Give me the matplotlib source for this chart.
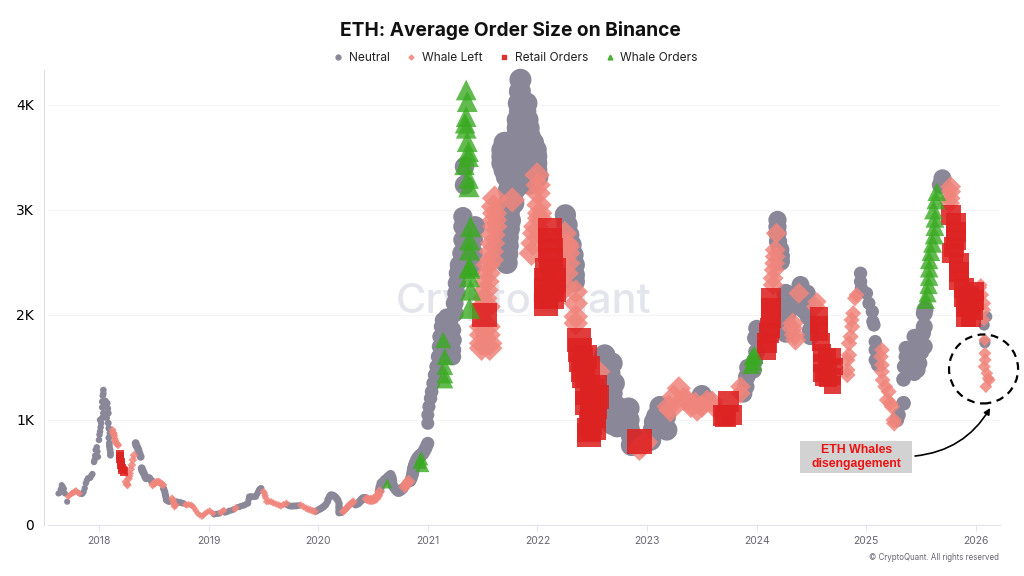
#!/usr/bin/env python3
"""ETH average order size on Binance, coloured by order regime."""

import matplotlib
matplotlib.use("Agg")
import matplotlib.pyplot as plt
import numpy as np
from matplotlib.lines import Line2D
from matplotlib.patches import Ellipse, Rectangle

# (decimal year, average order size)
neutral = [
    (2017.63, 300), (2017.64, 305), (2017.65, 340), (2017.66, 380), (2017.67, 365), (2017.68, 345), (2017.69, 300), (2017.71, 222),
    (2017.84, 295), (2017.85, 300), (2017.86, 317), (2017.87, 350), (2017.88, 397), (2017.89, 425), (2017.90, 445), (2017.92, 450), (2017.93, 470), (2017.94, 485),
    (2017.955, 600), (2017.96, 620), (2017.965, 660), (2017.97, 715), (2017.98, 740), (2017.985, 700), (2017.99, 650), (2018.0, 810),
    (2018.005, 860), (2018.01, 890), (2018.015, 930), (2018.02, 970), (2018.03, 1020), (2018.04, 1065), (2018.01, 1000),
    (2018.03, 1120), (2018.03, 1175), (2018.035, 1230), (2018.04, 1285), (2018.04, 1250),
    (2018.05, 1170), (2018.06, 1180), (2018.075, 1160), (2018.08, 1110), (2018.085, 1065), (2018.07, 1020), (2018.085, 970), (2018.09, 920), (2018.1, 875),
    (2018.09, 830), (2018.095, 780), (2018.095, 750), (2018.1, 720), (2018.105, 690), (2018.105, 665),
    (2018.335, 780), (2018.34, 760), (2018.35, 740), (2018.36, 715), (2018.37, 680), (2018.38, 650), (2018.39, 540), (2018.395, 520), (2018.40, 510), (2018.41, 490),
    (2018.42, 465), (2018.43, 445), (2018.445, 450), (2018.46, 445), (2018.48, 420),
    (2018.59, 345), (2018.6, 317), (2018.605, 290), (2018.61, 270), (2018.615, 238), (2018.63, 230), (2018.64, 225),
    (2018.71, 222), (2018.725, 215), (2018.74, 215), (2018.755, 210), (2018.77, 206),
    (2019.05, 100), (2019.07, 105), (2019.085, 108), (2019.10, 110), (2019.15, 118), (2019.17, 125), (2019.19, 136), (2019.21, 140), (2019.23, 150),
    (2019.27, 170), (2019.285, 175), (2019.30, 181), (2019.315, 185), (2019.33, 190), (2019.345, 200), (2019.36, 206), (2019.365, 240), (2019.37, 270),
    (2019.385, 272), (2019.40, 270), (2019.415, 268), (2019.43, 270), (2019.44, 290), (2019.45, 310), (2019.46, 333), (2019.47, 345), (2019.48, 350),
    (2019.72, 190), (2019.74, 181), (2019.755, 180), (2019.77, 180), (2019.785, 182), (2019.80, 181), (2019.82, 185),
    (2019.98, 130), (2019.995, 140), (2020.01, 149), (2020.02, 155), (2020.03, 160), (2020.04, 168), (2020.05, 175), (2020.06, 185), (2020.07, 195), (2020.085, 222),
    (2020.09, 245), (2020.10, 260), (2020.105, 275), (2020.115, 286), (2020.13, 285), (2020.14, 280), (2020.15, 272), (2020.16, 264), (2020.17, 250), (2020.18, 235), (2020.19, 206),
    (2020.19, 180), (2020.19, 160), (2020.19, 135), (2020.19, 117), (2020.21, 120),
    (2020.34, 195), (2020.35, 200), (2020.365, 206), (2020.38, 222), (2020.39, 235), (2020.40, 245), (2020.41, 254), (2020.43, 255),
    (2020.56, 330), (2020.565, 360), (2020.575, 397), (2020.59, 410), (2020.605, 428), (2020.62, 440), (2020.64, 460), (2020.66, 476), (2020.67, 450), (2020.675, 420),
    (2020.68, 381), (2020.69, 360), (2020.705, 340), (2020.72, 325), (2020.73, 317), (2020.745, 322), (2020.76, 335), (2020.775, 349),
    (2020.84, 420), (2020.85, 444), (2020.86, 480), (2020.865, 510), (2020.87, 540), (2020.88, 571), (2020.895, 605), (2020.91, 635), (2020.93, 660), (2020.955, 683), (2020.97, 710), (2020.98, 730), (2020.99, 755), (2021.0, 778),
    (2021.00, 968), (2021.0, 1048), (2021.01, 1127), (2021.025, 1206), (2021.035, 1270), (2021.05, 1350), (2021.065, 1429),
    (2021.08, 1508), (2021.095, 1603), (2021.105, 1699), (2021.11, 1794), (2021.125, 1889), (2021.135, 1952),
    (2021.17, 1984), (2021.2, 1937), (2021.225, 1857), (2021.23, 1762), (2021.225, 1667), (2021.225, 1603), (2021.155, 1730), (2021.155, 1603), (2021.155, 1841),
    (2021.19, 1750), (2021.19, 1650),
    (2021.245, 2016), (2021.245, 2111), (2021.26, 2207), (2021.265, 2302), (2021.275, 2397), (2021.285, 2477),
    (2021.29, 2461), (2021.40, 2461), (2021.31, 2588), (2021.41, 2588), (2021.32, 2715), (2021.41, 2715), (2021.32, 2842), (2021.43, 2842), (2021.32, 2937),
    (2021.335, 3238), (2021.335, 3413),
    # main 2021 top
    (2021.845, 4240), (2021.84, 4130), (2021.83, 4016), (2021.90, 4016), (2021.87, 4016), (2021.82, 3858), (2021.91, 3858), (2021.865, 3858), (2021.84, 3940), (2021.89, 3940),
    (2021.81, 3700), (2021.93, 3700), (2021.87, 3700), (2021.82, 3780), (2021.92, 3780), (2021.87, 3780),
    (2021.68, 3572), (2021.74, 3572), (2021.80, 3572), (2021.87, 3572), (2021.93, 3572), (2021.985, 3572), (2021.70, 3640), (2021.76, 3640), (2021.83, 3640), (2021.90, 3640), (2021.96, 3640),
    (2021.68, 3445), (2021.74, 3445), (2021.80, 3445), (2021.87, 3445), (2021.93, 3445), (2021.99, 3445), (2021.68, 3510), (2021.99, 3510),
    (2021.72, 3318), (2021.78, 3318), (2021.85, 3318), (2021.92, 3318), (2022.0, 3318), (2021.70, 3380), (2021.99, 3380),
    (2021.74, 3191), (2021.79, 3191), (2021.86, 3250), (2021.93, 3250), (2021.75, 3250),
    (2021.74, 3064), (2021.78, 3064), (2021.74, 2980), (2021.75, 2900), (2021.74, 2820), (2021.73, 2740), (2021.73, 2660), (2021.725, 2580), (2021.72, 2495),
    (2021.68, 2550), (2021.68, 2650), (2021.70, 2750), (2021.69, 2850), (2021.70, 2950),
    # 2022 decline
    (2022.255, 2953), (2022.27, 2858), (2022.286, 2762), (2022.307, 2667), (2022.325, 2572), (2022.337, 2477), (2022.337, 2381), (2022.337, 2318),
    (2022.614, 1619), (2022.635, 1540), (2022.68, 1540), (2022.66, 1445), (2022.70, 1349), (2022.68, 1254), (2022.727, 1127), (2022.68, 1127), (2022.727, 1000), (2022.68, 1040), (2022.727, 937), (2022.68, 960),
    (2022.78, 1050), (2022.78, 960), (2022.833, 1111), (2022.833, 1000), (2022.833, 920), (2022.86, 850), (2022.879, 794), (2022.86, 760),
    (2023.03, 810), (2023.06, 905), (2023.09, 1032), (2023.12, 1127), (2023.12, 1032), (2023.167, 1032), (2023.18, 905), (2023.12, 930), (2023.07, 980), (2023.15, 960),
    (2023.50, 1238), (2023.47, 1180), (2023.54, 1190),
    (2023.88, 1250), (2023.90, 1318), (2023.91, 1413), (2023.92, 1500), (2023.97, 1476), (2023.99, 1780), (2024.0, 1873), (2024.04, 1800), (2024.0, 1650), (2023.98, 1560),
    (2024.19, 2905), (2024.19, 2840), (2024.19, 2778), (2024.195, 2700), (2024.215, 2620), (2024.22, 2560), (2024.22, 2510),
    (2024.265, 2207), (2024.27, 2111), (2024.28, 2016), (2024.27, 1921), (2024.265, 1825),
    (2024.40, 2286), (2024.38, 2143), (2024.46, 2207), (2024.46, 2143), (2024.43, 2048), (2024.47, 1984), (2024.49, 1857), (2024.49, 1794),
    (2024.948, 2397), (2024.948, 2318), (2024.955, 2254), (2025.003, 2207), (2025.024, 2111), (2025.055, 2032), (2025.06, 1937), (2025.07, 1905),
    (2025.082, 1746), (2025.082, 1667), (2025.082, 1572), (2025.103, 1524),
    (2025.34, 1159), (2025.295, 1048), (2025.28, 1000),
    (2025.34, 1387), (2025.346, 1508), (2025.362, 1603), (2025.362, 1683), (2025.438, 1445), (2025.468, 1476), (2025.438, 1572), (2025.438, 1667),
    (2025.407, 1600), (2025.483, 1540), (2025.438, 1794), (2025.514, 1826), (2025.529, 1700), (2025.529, 1889), (2025.529, 2016), (2025.535, 2048), (2025.50, 1650),
    (2025.695, 3302), (2025.68, 3238), (2026.075, 1905), (2026.10, 1984), (2026.082, 1737),
]

whale_left = [
    (2017.72, 270), (2017.735, 285), (2017.75, 300), (2017.76, 305), (2017.77, 310), (2017.78, 318), (2017.79, 327), (2017.805, 310), (2017.82, 300),
    (2018.125, 905), (2018.13, 880), (2018.135, 870), (2018.14, 850), (2018.145, 820), (2018.15, 800), (2018.16, 780), (2018.165, 770), (2018.175, 760),
    (2018.245, 412), (2018.255, 390), (2018.26, 380), (2018.27, 440), (2018.275, 465), (2018.28, 490), (2018.29, 530), (2018.30, 570), (2018.31, 620), (2018.32, 665),
    (2018.49, 380), (2018.50, 395), (2018.51, 400), (2018.525, 410), (2018.54, 412), (2018.55, 405), (2018.56, 400), (2018.575, 390), (2018.585, 380),
    (2018.667, 254), (2018.675, 235), (2018.68, 215), (2018.685, 195), (2018.69, 175), (2018.70, 190),
    (2018.79, 195), (2018.8, 190), (2018.82, 195), (2018.84, 190), (2018.855, 180), (2018.87, 159), (2018.885, 135), (2018.9, 111),
    (2018.92, 95), (2018.94, 80), (2018.955, 95), (2018.97, 111), (2018.99, 125), (2019.01, 136), (2019.025, 120), (2019.04, 111),
    (2019.11, 118), (2019.12, 125), (2019.13, 133), (2019.14, 140), (2019.24, 150), (2019.25, 165),
    (2019.50, 320), (2019.51, 302), (2019.515, 280), (2019.52, 260), (2019.53, 222), (2019.55, 225), (2019.57, 222), (2019.59, 210), (2019.615, 200),
    (2019.64, 190), (2019.66, 181), (2019.685, 195), (2019.71, 206),
    (2019.84, 190), (2019.865, 175), (2019.89, 159), (2019.91, 150), (2019.93, 143), (2019.95, 135), (2019.97, 127),
    (2020.227, 127), (2020.24, 140), (2020.25, 150), (2020.26, 162), (2020.27, 175), (2020.285, 190), (2020.295, 200), (2020.31, 212), (2020.32, 222),
    (2020.44, 248), (2020.45, 245), (2020.46, 240), (2020.475, 238), (2020.485, 238), (2020.50, 240), (2020.51, 245), (2020.52, 250), (2020.53, 254), (2020.54, 275), (2020.545, 285), (2020.56, 317),
    (2020.79, 360), (2020.80, 380), (2020.81, 397), (2020.825, 415),
    # 2021 column
    (2021.61, 3112), (2021.60, 3032), (2021.61, 2969), (2021.61, 2905), (2021.61, 2842), (2021.595, 2762), (2021.59, 2683), (2021.58, 2604), (2021.58, 2524),
    (2021.55, 2477), (2021.55, 2397), (2021.54, 2318), (2021.53, 2238), (2021.52, 2159), (2021.50, 2080), (2021.55, 2080),
    (2021.49, 1889), (2021.55, 1889), (2021.49, 1810), (2021.55, 1810), (2021.49, 1730), (2021.565, 1730), (2021.49, 1683), (2021.565, 1683),
    (2021.77, 3096),
    (2021.997, 3334), (2022.006, 3238), (2022.006, 3159), (2022.015, 3048), (2022.02, 2969), (2022.02, 2921), (2021.985, 2842), (2021.975, 2778), (2021.96, 2683), (2021.945, 2588),
    (2022.25, 2778), (2022.265, 2683), (2022.28, 2651), (2022.28, 2588), (2022.28, 2492), (2022.265, 2397), (2022.26, 2270),
    (2022.35, 2222), (2022.35, 2111), (2022.35, 1984), (2022.35, 1921), (2022.555, 1460),
    (2022.96, 760), (2022.93, 730), (2022.985, 790),
    (2023.199, 1127), (2023.214, 1095), (2023.245, 1222), (2023.29, 1302), (2023.335, 1200), (2023.365, 1190), (2023.44, 1159), (2023.457, 1095),
    (2023.40, 1130), (2023.50, 1130), (2023.548, 1180), (2023.594, 1175), (2023.625, 1110), (2023.853, 1318), (2023.853, 1254),
    (2024.15, 2286), (2024.15, 2350), (2024.16, 2429), (2024.165, 2492), (2024.17, 2556), (2024.17, 2620), (2024.18, 2778),
    (2024.33, 1921), (2024.325, 1873), (2024.345, 1810), (2024.355, 1762), (2024.385, 2207), (2024.55, 2127), (2024.54, 2080),
    (2024.827, 1571), (2024.827, 1476), (2024.827, 1429), (2024.842, 1619), (2024.842, 1730), (2024.857, 1794), (2024.872, 1889), (2024.866, 1953), (2024.881, 2016), (2024.897, 2159), (2024.912, 2191),
    (2025.143, 1667), (2025.134, 1603), (2025.143, 1524), (2025.143, 1460), (2025.149, 1381), (2025.173, 1318), (2025.204, 1270), (2025.188, 1190), (2025.219, 1159), (2025.234, 1127),
    (2025.25, 1000), (2025.255, 968),
    (2025.77, 3222), (2025.77, 3175), (2025.765, 3111), (2025.76, 3064),
    (2026.045, 2286), (2026.04, 2260), (2026.06, 2191), (2026.08, 2111), (2026.08, 2048), (2026.075, 1953),
    (2026.082, 1762), (2026.082, 1635), (2026.085, 1572), (2026.076, 1508), (2026.10, 1445), (2026.112, 1397), (2026.122, 1381), (2026.091, 1318),
]

retail_orders = [
    (2018.19, 680), (2018.192, 655), (2018.195, 630), (2018.197, 600), (2018.20, 575), (2018.21, 540), (2018.215, 525), (2018.225, 510),
    (2021.52, 2000),
    (2022.113, 2810), (2022.113, 2715), (2022.12, 2620), (2022.125, 2524), (2022.149, 2429), (2022.089, 2429),
    (2022.149, 2334), (2022.082, 2334), (2022.149, 2238), (2022.076, 2238), (2022.134, 2175), (2022.076, 2175), (2022.076, 2105),
    (2022.377, 1762), (2022.386, 1667), (2022.398, 1572), (2022.413, 1476), (2022.422, 1413), (2022.44, 1600), (2022.46, 1500),
    (2022.529, 1318), (2022.545, 1222), (2022.529, 1127), (2022.514, 1032), (2022.484, 968), (2022.468, 905), (2022.468, 857),
    (2022.453, 1254), (2022.453, 1159), (2022.499, 1064), (2022.50, 1180), (2022.50, 1280), (2022.52, 920),
    (2022.933, 794),
    (2023.745, 1175), (2023.715, 1032), (2023.776, 1048), (2023.70, 1040),
    (2024.134, 2159), (2024.128, 2064), (2024.128, 1968), (2024.122, 1873), (2024.112, 1825), (2024.097, 1730), (2024.091, 1667),
    (2024.568, 1984), (2024.568, 1905), (2024.568, 1841), (2024.584, 1746), (2024.599, 1635), (2024.599, 1540), (2024.599, 1445), (2024.614, 1413),
    (2024.64, 1600), (2024.65, 1500), (2024.65, 1400),
    (2024.69, 1603), (2024.705, 1508), (2024.69, 1413), (2024.69, 1334),
    (2025.772, 2953), (2025.818, 2873), (2025.818, 2794), (2025.818, 2715), (2025.802, 2651), (2025.787, 2588),
    (2025.848, 2492), (2025.848, 2413), (2025.848, 2334), (2025.894, 2254), (2025.894, 2175), (2025.985, 2223), (2025.985, 2143),
    (2025.909, 2080), (2025.909, 1984), (2025.97, 2050), (2025.954, 1984), (2025.94, 2180), (2025.94, 2090),
]

whale_orders = [
    (2020.63, 397), (2020.925, 603), (2020.94, 635), (2020.95, 571),
    (2021.14, 1762), (2021.155, 1603), (2021.155, 1508), (2021.155, 1429), (2021.155, 1381),
    (2021.38, 2064), (2021.39, 2238), (2021.38, 2365), (2021.38, 2445), (2021.38, 2461), (2021.38, 2620),
    (2021.38, 2715), (2021.39, 2842),
    (2021.35, 4143), (2021.36, 4032), (2021.35, 3889), (2021.34, 3826), (2021.35, 3778), (2021.36, 3651),
    (2021.37, 3556), (2021.37, 3508), (2021.335, 3429), (2021.37, 3302), (2021.375, 3222),
    (2023.96, 1603), (2023.95, 1524), (2023.97, 1556), (2023.98, 1620),
    (2025.644, 3175), (2025.635, 3096), (2025.614, 3000), (2025.626, 2921), (2025.626, 2842), (2025.62, 2762), (2025.605, 2683),
    (2025.59, 2603), (2025.574, 2524), (2025.574, 2445), (2025.574, 2365), (2025.568, 2286), (2025.559, 2207), (2025.544, 2143),
]

# bubble diameter in pixels grows over time in the source chart
size_years = [2017.6, 2018.0, 2018.4, 2018.9, 2019.5, 2020.0, 2020.3, 2020.5, 2020.8, 2020.9, 2021.0, 2021.1, 2021.3,
              2021.5, 2022.0, 2022.4, 2023.0, 2023.5, 2024.0, 2024.3, 2024.5, 2025.0, 2025.4, 2025.6, 2025.98, 2026.03, 2026.1]
size_px = [6, 6.5, 8, 6, 6.5, 7, 7.5, 9, 11, 14, 13, 15, 19, 22, 22, 21, 22, 20, 17, 19, 17, 13, 15, 18, 18, 12, 11]

year_ticks = list(range(2018, 2027))
value_ticks = [0, 1000, 2000, 3000, 4000]
value_labels = ["0", "1K", "2K", "3K", "4K"]

GRAY = "#8a8898"
PINK = "#f0857c"
RED = "#dd2222"
GREEN = "#3aaa22"


def draw_series(ax, points, marker, color, alpha, scale):
    xs, ys = np.array(points, dtype=float).T
    sizes = (np.interp(xs, size_years, size_px) * scale * 0.72) ** 2
    ax.scatter(xs, ys, s=sizes, marker=marker, color=color, alpha=alpha,
               linewidths=0, clip_on=False, zorder=3)


fig = plt.figure(figsize=(10.24, 5.76), dpi=100, facecolor="white")
ax = fig.add_axes([48 / 1024, 1 - 525 / 576, 952 / 1024, 455 / 576])
ax.set_xlim(2017.535, 2026.22)
ax.set_ylim(0, 4333)

ax.text(0.5, 0.49, "CryptoQuant", transform=ax.transAxes, ha="center", va="center",
        fontsize=30, fontweight="medium", family="Inter", color="#e4e5ec", zorder=1)

draw_series(ax, neutral, "o", GRAY, 1.0, 1.0)
draw_series(ax, whale_left, "D", PINK, 0.85, 0.82)
draw_series(ax, retail_orders, "s", RED, 0.88, 1.12)
draw_series(ax, whale_orders, "^", GREEN, 0.8, 1.05)

ax.set_xticks(year_ticks)
ax.set_xticklabels([str(y) for y in year_ticks], family="Inter", fontsize=7.5, color="#666672")
ax.set_yticks(value_ticks)
ax.set_yticklabels(value_labels, family="Inter", fontsize=9.5, color="#222222")
ax.tick_params(axis="x", length=4, width=0.8, color="#e2e2ea", pad=4)
ax.tick_params(axis="y", length=0, pad=7)
ax.grid(axis="y", color="#f5f5f7", linewidth=0.8, zorder=0)
ax.set_axisbelow(True)
for side in ("top", "right"):
    ax.spines[side].set_visible(False)
ax.spines["bottom"].set_color("#e2e2ea")
ax.spines["left"].set_color("#dcdce6")
ax.spines["left"].set_position(("outward", 3))

fig.text(510.5 / 1024, 1 - 30.5 / 576, "ETH: Average Order Size on Binance", ha="center", va="center",
         family="Inter", fontweight="bold", fontsize=13.8, color="#111111")

handles = [
    Line2D([], [], linestyle="", marker="o", markersize=3.5, color=GRAY, label="Neutral"),
    Line2D([], [], linestyle="", marker="D", markersize=2.5, color=PINK, alpha=0.8, label="Whale Left"),
    Line2D([], [], linestyle="", marker="s", markersize=3.2, color=RED, alpha=0.9, label="Retail Orders"),
    Line2D([], [], linestyle="", marker="^", markersize=3.5, color=GREEN, alpha=0.85, label="Whale Orders"),
]
fig.legend(handles=handles, loc="center", bbox_to_anchor=(515 / 1024, 1 - 58 / 576), ncol=4, frameon=False,
           prop={"family": "Inter", "size": 8.6}, handletextpad=0.4, columnspacing=1.3, handlelength=1.0,
           labelcolor="#222222")

# dashed ring around the last weeks of the series
ax.add_patch(Ellipse((2026.07, 1486), 0.63, 657, fill=False, edgecolor="black", linewidth=1.6,
                     linestyle=(0, (3.5, 2.5)), clip_on=False, zorder=5))

ax.annotate("", xy=(2026.13, 1114), xytext=(2025.445, 657),
            arrowprops=dict(arrowstyle="-|>", color="black", lw=1.2, mutation_scale=9,
                            connectionstyle="arc3,rad=0.25", shrinkA=0, shrinkB=0), zorder=5)
ax.add_patch(Rectangle((2024.396, 495), 1.022, 305, facecolor="#d2d2d2", edgecolor="none", zorder=4))
ax.text(2024.907, 648, "ETH Whales\ndisengagement", ha="center", va="center", family="Liberation Sans",
        fontweight="bold", fontsize=8.8, color="#ee1111", linespacing=1.15, zorder=5)

fig.text(999 / 1024, 1 - 558 / 576, "© CryptoQuant. All rights reserved", ha="right", va="center",
         family="Inter", fontsize=5.7, color="#666672")

fig.savefig("out.png", dpi=100)
